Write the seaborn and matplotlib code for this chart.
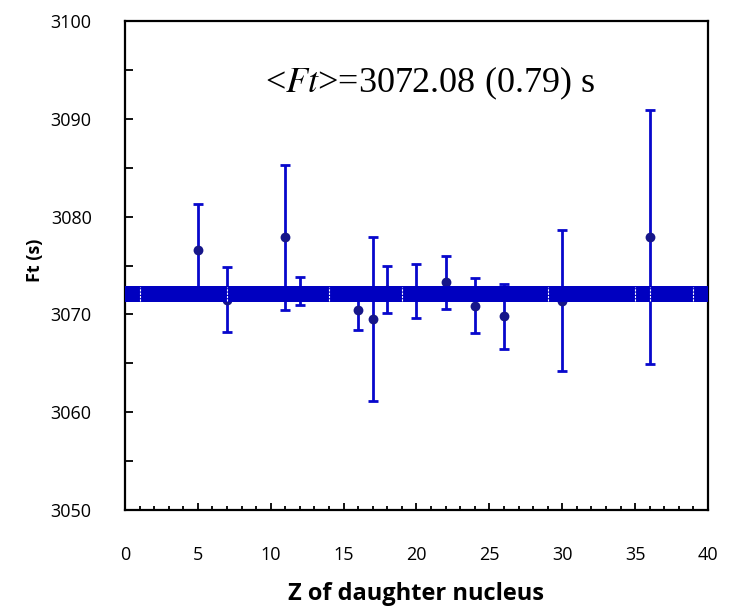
import numpy as np
import pandas as pd
import matplotlib
matplotlib.use("Agg")
import matplotlib.pyplot as plt
import seaborn as sns
from matplotlib.ticker import MultipleLocator

# ---- data ----
z_values = [5, 7, 11, 12, 16, 17, 18, 20, 22, 24, 26, 30, 36]
ft_values = [3076.6, 3071.5, 3077.9, 3072.4, 3070.5, 3069.5, 3072.5,
             3072.4, 3073.3, 3070.9, 3069.8, 3071.4, 3077.9]
ft_errors = [4.7, 3.3, 7.4, 1.4, 2.1, 8.4, 2.4, 2.8, 2.7, 2.8, 3.3, 7.2, 13.0]
mean_ft = 3072.08
mean_err = 0.79
band_gaps = [1, 7, 14, 19, 29, 35, 36, 39]
x_ticks = [0, 5, 10, 15, 20, 25, 30, 35, 40]
y_ticks = [3050, 3060, 3070, 3080, 3090, 3100]

df = pd.DataFrame({"Z": z_values, "Ft": ft_values, "err": ft_errors})

sns.set_style("white")
plt.rcParams["font.family"] = ["Open Sans", "DejaVu Sans"]
plt.rcParams["text.color"] = "black"
plt.rcParams["axes.labelcolor"] = "black"
plt.rcParams["xtick.color"] = "black"
plt.rcParams["ytick.color"] = "black"

fig = plt.figure(figsize=(7.47, 6.11), dpi=100)
ax = fig.add_axes([0.1673, 0.1653, 0.7805, 0.8003])

bar_color = "#0808cc"
ax.errorbar(df["Z"], df["Ft"], yerr=df["err"], fmt="none", ecolor=bar_color,
            elinewidth=2.0, capsize=3.5, capthick=2.0, zorder=2)
sns.scatterplot(data=df, x="Z", y="Ft", ax=ax, color="#16168a", s=50,
                edgecolor="#16168a", linewidth=0, zorder=3, legend=False)

# weighted average band
ax.fill_between([0, 40], mean_ft - mean_err, mean_ft + mean_err,
                color="#0000c0", linewidth=0, zorder=4)
for g in band_gaps:
    ax.plot([g, g], [mean_ft - mean_err + 0.1, mean_ft + mean_err - 0.1],
            color="white", lw=0.8, ls=(0, (2, 1)), zorder=5)

ax.set_xlim(0, 40)
ax.set_ylim(3050, 3100)
ax.set_xticks(x_ticks)
ax.set_yticks(y_ticks)
ax.xaxis.set_minor_locator(MultipleLocator(1))
ax.yaxis.set_minor_locator(MultipleLocator(5))
ax.tick_params(axis="both", which="both", direction="in", color="black",
               labelcolor="black", bottom=True, left=True, top=False, right=False)
ax.tick_params(axis="x", which="major", length=5, width=1.3, labelsize=13, pad=26)
ax.tick_params(axis="x", which="minor", length=3, width=1.3)
ax.tick_params(axis="y", which="major", length=6, width=1.3, labelsize=13, pad=24)
ax.tick_params(axis="y", which="minor", length=6, width=1.3)
for s in ax.spines.values():
    s.set_color("black")
    s.set_linewidth(1.6)

ax.set_xlabel("Z of daughter nucleus", fontsize=17, fontweight="bold",
              labelpad=13, color="black")
ax.set_ylabel("")
fig.text(35 / 747, 1 - 260 / 611, "Ft (s)", rotation=90, fontsize=13,
         fontweight="bold", ha="center", va="center", color="black")

ax.text(20.9, 3093.6, r"<$\mathit{Ft}$>=3072.08 (0.79) s",
        fontsize=26, family="Liberation Serif", ha="center", va="center",
        math_fontfamily="stix", color="black")

fig.savefig("out.png", dpi=100)
